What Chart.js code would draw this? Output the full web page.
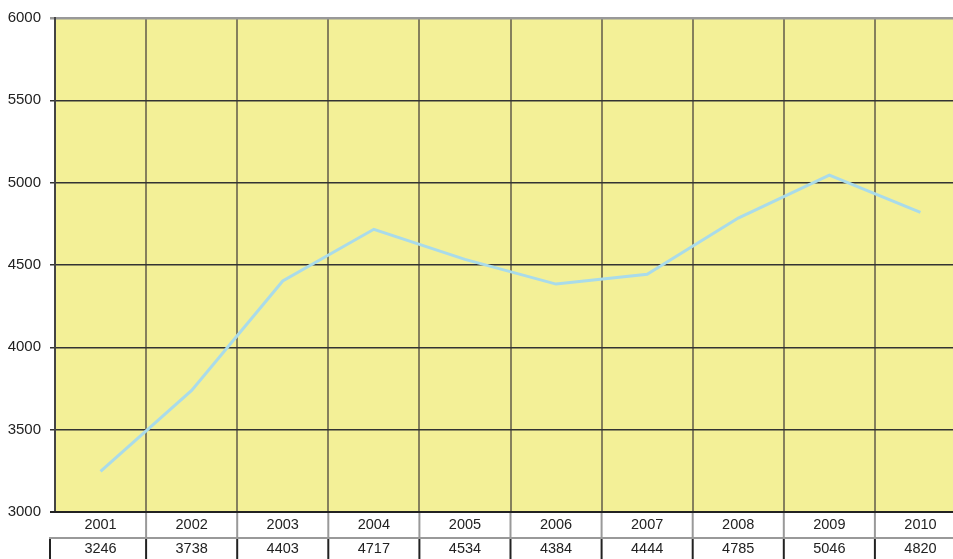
<!DOCTYPE html>
<html>
<head>
<meta charset="utf-8">
<script src="https://cdn.jsdelivr.net/npm/chart.js@4/dist/chart.umd.min.js"></script>
<style>
  html, body { margin: 0; padding: 0; background: #fff; overflow: hidden; }
  #wrap { width: 953px; height: 559px; overflow: hidden; position: relative; }
  #box { width: 966px; height: 559px; }
</style>
</head>
<body>
<div id="wrap"><div id="box"><canvas id="chart"></canvas></div></div>
<script>
// data
const years = ['2001', '2002', '2003', '2004', '2005', '2006', '2007', '2008', '2009', '2010'];
const values = [3246, 3738, 4403, 4717, 4534, 4384, 4444, 4785, 5046, 4820];
const yTicks = [3000, 3500, 4000, 4500, 5000, 5500, 6000];

// yellow plot background + the data table under the plot
const tablePlugin = {
    id: 'tablePlugin',
    beforeDraw(chart) {
        const { ctx, chartArea: a } = chart;
        ctx.save();
        ctx.fillStyle = '#f3f097';
        ctx.fillRect(a.left, a.top, a.right - a.left, a.bottom - a.top);
        ctx.restore();
    },
    afterDraw(chart) {
        const { ctx, chartArea: a } = chart;
        const x = chart.scales.x;
        const row1 = a.bottom;
        const row2 = a.bottom + 26;
        const row3 = chart.height;
        ctx.save();
        // vertical lines in the table
        for (let i = 0; i <= years.length; i++) {
            const px = i < years.length ? x.getPixelForTick(i) - x.width / years.length / 2 : a.right;
            if (i > 0) {
                ctx.strokeStyle = '#999';
                ctx.lineWidth = 2;
                ctx.beginPath(); ctx.moveTo(px, row1); ctx.lineTo(px, row2); ctx.stroke();
            }
            ctx.strokeStyle = '#222';
            ctx.lineWidth = 2;
            const vx = i === 0 ? px - 5 : px;
            ctx.beginPath(); ctx.moveTo(vx, row2); ctx.lineTo(vx, row3); ctx.stroke();
        }
        // row separator
        ctx.strokeStyle = '#999';
        ctx.lineWidth = 2;
        ctx.beginPath(); ctx.moveTo(a.left - 6, row2); ctx.lineTo(a.right, row2); ctx.stroke();
        // bottom axis line
        ctx.strokeStyle = '#222';
        ctx.lineWidth = 2;
        ctx.beginPath(); ctx.moveTo(a.left - 5, row1); ctx.lineTo(a.right, row1); ctx.stroke();
        // texts
        ctx.fillStyle = '#222';
        ctx.font = '14.5px "Liberation Sans", Arial, sans-serif';
        ctx.textAlign = 'center';
        ctx.textBaseline = 'middle';
        years.forEach((yr, i) => {
            const cx = x.getPixelForValue(i);
            ctx.fillText(yr, cx, row1 + 13);
            ctx.fillText(String(values[i]), cx, row2 + 11);
        });
        ctx.restore();
    }
};

const ctx = document.getElementById('chart').getContext('2d');
new Chart(ctx, {
    type: 'line',
    data: {
        labels: years,
        datasets: [{
            data: values,
            borderColor: '#a9dbea',
            borderWidth: 3,
            pointRadius: 0,
            tension: 0,
            fill: false
        }]
    },
    options: {
        responsive: true,
        maintainAspectRatio: false,
        animation: false,
        layout: { padding: { top: 16, right: 0, bottom: 47, left: 0 } },
        plugins: {
            legend: { display: false },
            tooltip: { enabled: false }
        },
        scales: {
            x: {
                offset: true,
                ticks: { display: false },
                grid: {
                    offset: true,
                    color: '#85805c',
                    lineWidth: 2,
                    drawTicks: false
                },
                border: { display: false }
            },
            y: {
                min: 3000,
                max: 6000,
                afterBuildTicks(scale) {
                    scale.ticks = yTicks.map(v => ({ value: v }));
                },
                afterFit(scale) { scale.width = 55; },
                ticks: {
                    color: '#222',
                    padding: 9,
                    font: { family: '"Liberation Sans", Arial, sans-serif', size: 15 },
                    callback: v => String(v)
                },
                grid: {
                    color: ctx => ctx.tick && ctx.tick.value === 6000 ? '#999' : '#333',
                    lineWidth: ctx => ctx.tick && ctx.tick.value === 6000 ? 2.5 : 1.5,
                    tickLength: 5
                },
                border: { color: '#444', width: 2 }
            }
        }
    },
    plugins: [tablePlugin]
});
</script>
</body>
</html>
